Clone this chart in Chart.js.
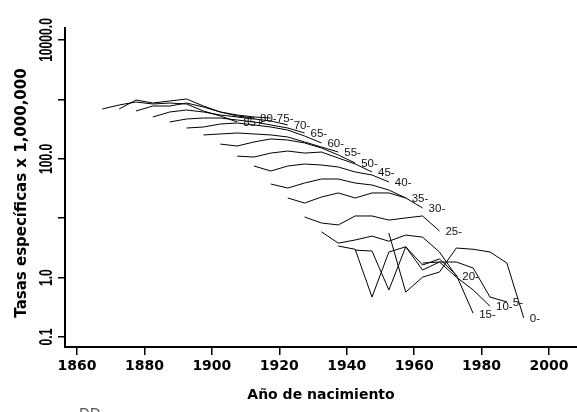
<!DOCTYPE html>
<html>
<head>
<meta charset="utf-8">
<script src="https://cdn.jsdelivr.net/npm/chart.js@4/dist/chart.umd.min.js"></script>
<style>
html,body{margin:0;padding:0;background:#fff;}
#wrap{width:577px;height:412px;position:relative;}
canvas{display:block;}
</style>
</head>
<body>
<div id="wrap"><canvas id="c" width="577" height="412"></canvas></div>
<script>
// ---- data ----
const ageGroups = ['0-','5-','10-','15-','20-','25-','30-','35-','40-','45-','50-','55-','60-','65-','70-','75-','80-','85+'];
// first birth cohort plotted for each age group (years)
const cohortStart = [1952.5,1947.5,1942.5,1937.5,1932.5,1927.5,1922.5,1917.5,1912.5,1907.5,1902.5,1897.5,1892.5,1887.5,1882.5,1877.5,1872.5,1867.5];
const cohortStep = 5;
// rates x 1,000,000 (9 successive periods per age group)
const r0  = [5.6, 0.57, 1.02, 1.24, 3.15, 3.0, 2.7, 1.76, 0.21];
const r5  = [null, null, null, 1.76, 1.83, 1.83, 1.45, 0.47, 0.39];
const r10 = [2.9, 2.8, 0.62, 3.3, 1.34, 1.83, 1.02, 0.62, 0.33];
const r15 = [3.4, 3.0, 0.47, 2.7, 3.3, 1.63, 2.06, 1.11, 0.25];
const r20 = [5.9, 3.8, 4.3, 5.0, 4.1, 5.2, 4.8, 2.7, 1.06];
const r25 = [10.5, 8.3, 7.7, 10.9, 10.9, 9.3, 10.1, 10.9, 6.1];
const r30 = [21.9, 18.0, 22.7, 26.6, 21.9, 26.6, 26.6, 21.9, 14.9];
const r35 = [37.6, 32.2, 39.1, 45.7, 45.7, 39.1, 36.2, 29.8, 21.9];
const r40 = [75.6, 62.3, 75.6, 81.7, 78.6, 72.8, 60.0, 53.4, 40.7];
const r45 = [111, 107, 125, 135, 125, 130, 103, 82, 60];
const r50 = [177, 164, 192, 216, 207, 185, 152, 116, 85];
const r55 = [252, 262, 272, 262, 252, 233, 192, 158, 130];
const r60 = [330, 343, 385, 401, 371, 343, 305, 242, 185];
const r65 = [417, 468, 486, 486, 450, 417, 371, 330, 272];
const r70 = [506, 614, 663, 614, 546, 506, 468, 433, 371];
const r75 = [638, 774, 774, 869, 745, 614, 546, 506, 486];
const r80 = [689, 977, 869, 940, 1016, 774, 614, 526, 486];
const r85 = [689, 805, 904, 837, 869, 837, 638, 526, 417];
const rates = [r0,r5,r10,r15,r20,r25,r30,r35,r40,r45,r50,r55,r60,r65,r70,r75,r80,r85];

const xTicks = [1860,1880,1900,1920,1940,1960,1980,2000];
const yTicks = [0.1,1,10,100,1000,10000];
const yTickLabels = ['0.1','1.0','','100.0','','10000.0'];
const yTitle = 'Tasas específicas x 1,000,000';
const xTitle = 'Año de nacimiento';

// ---- build datasets ----
const datasets = ageGroups.map((g, i) => ({
  label: g,
  data: rates[i].map((v, k) => ({x: cohortStart[i] + cohortStep * k, y: v})),
  borderColor: '#000',
  borderWidth: 1,
  pointRadius: 0,
  tension: 0,
  spanGaps: false,
  fill: false
}));

const FONT = '"DejaVu Sans", sans-serif';

const labelPlugin = {
  id: 'labels',
  afterDatasetsDraw(chart) {
    const ctx = chart.ctx;
    ctx.save();
    ctx.fillStyle = '#111';
    ctx.font = '11.5px "Liberation Sans", Arial, sans-serif';
    ctx.textAlign = 'left';
    ctx.textBaseline = 'middle';
    chart.data.datasets.forEach((ds, i) => {
      const meta = chart.getDatasetMeta(i);
      let idx = ds.data.length - 1;
      while (idx >= 0 && ds.data[idx].y == null) idx--;
      if (idx < 0) return;
      const p = meta.data[idx];
      ctx.fillText(ds.label, p.x + 6, p.y + 1);
    });
    ctx.restore();
  }
};

const yLabelPlugin = {
  id: 'ylabels',
  afterDraw(chart) {
    const ctx = chart.ctx;
    const ys = chart.scales.y;
    ctx.save();
    ctx.fillStyle = '#000';
    ctx.font = 'bold 13px "Liberation Sans", Arial, sans-serif';
    ctx.textAlign = 'center';
    ctx.textBaseline = 'alphabetic';
    yTicks.forEach((v, i) => {
      const t = yTickLabels[i];
      if (!t) return;
      const py = ys.getPixelForValue(v);
      ctx.save();
      ctx.translate(52, py);
      ctx.rotate(-Math.PI / 2);
      ctx.scale(0.93, 1.45);
      ctx.fillText(t, 0, 0);
      ctx.restore();
    });
    // y axis title
    ctx.save();
    ctx.font = 'bold 15px ' + FONT;
    ctx.textAlign = 'center';
    ctx.textBaseline = 'middle';
    ctx.translate(22, 193);
    ctx.rotate(-Math.PI / 2);
    ctx.fillText(yTitle, 0, 0);
    ctx.restore();
    // clipped caption fragment at the bottom
    ctx.fillStyle = '#555';
    ctx.font = '14px ' + FONT;
    ctx.textAlign = 'left';
    ctx.textBaseline = 'top';
    ctx.fillText('DD', 79, 407);
    ctx.restore();
  }
};

new Chart(document.getElementById('c'), {
  type: 'line',
  data: { datasets },
  options: {
    responsive: false,
    animation: false,
    devicePixelRatio: 1,
    layout: { padding: { top: 28, right: 0, left: 0, bottom: 0 } },
    plugins: { legend: { display: false }, tooltip: { enabled: false } },
    scales: {
      x: {
        type: 'linear',
        position: 'bottom',
        min: 1856.44,
        max: 2008.3,
        afterBuildTicks(s) { s.ticks = xTicks.map(v => ({ value: v })); },
        afterFit(s) { s.height = 65; },
        ticks: {
          color: '#000',
          font: { family: FONT, weight: 'bold', size: 14 },
          padding: 3,
          maxRotation: 0,
          callback: v => String(v)
        },
        grid: { drawOnChartArea: false, drawTicks: true, tickLength: 8, color: '#000', lineWidth: 1.5 },
        border: { display: true, color: '#000', width: 2 },
        title: {
          display: true,
          text: xTitle,
          color: '#000',
          font: { family: FONT, weight: 'bold', size: 14 },
          padding: { top: 0, bottom: 8 }
        }
      },
      y: {
        type: 'logarithmic',
        position: 'left',
        min: 0.0679,
        max: 15922,
        afterBuildTicks(s) { s.ticks = yTicks.map(v => ({ value: v })); },
        afterFit(s) { s.width = 65; },
        ticks: { display: false },
        grid: { drawOnChartArea: false, drawTicks: true, tickLength: 7, color: '#000', lineWidth: 1.5 },
        border: { display: true, color: '#000', width: 2 },
        title: { display: false }
      }
    }
  },
  plugins: [labelPlugin, yLabelPlugin]
});
</script>
</body>
</html>
